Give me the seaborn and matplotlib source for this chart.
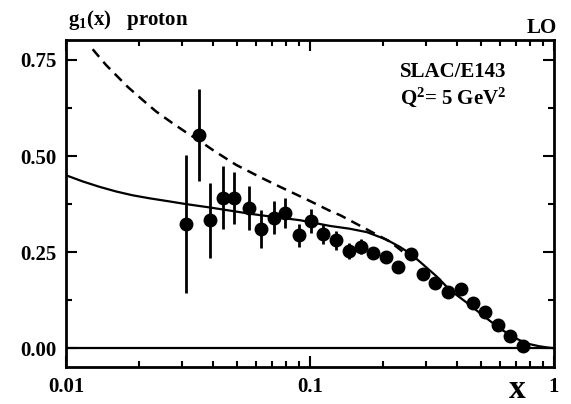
import numpy as np
import pandas as pd
import matplotlib
matplotlib.use("Agg")
import matplotlib.pyplot as plt
import seaborn as sns
from matplotlib.ticker import LogLocator, MultipleLocator, FixedLocator, NullFormatter, FixedFormatter

# ---- data ----
x_data = [0.031, 0.035, 0.039, 0.044, 0.049, 0.056, 0.063, 0.071, 0.079, 0.090,
          0.101, 0.113, 0.128, 0.144, 0.162, 0.182, 0.205, 0.229, 0.259, 0.291,
          0.325, 0.367, 0.415, 0.464, 0.521, 0.588, 0.660, 0.748]
g1_data = [0.323, 0.555, 0.333, 0.391, 0.391, 0.365, 0.310, 0.339, 0.351, 0.294,
           0.331, 0.297, 0.281, 0.253, 0.264, 0.248, 0.238, 0.210, 0.244, 0.193,
           0.170, 0.147, 0.153, 0.118, 0.095, 0.060, 0.031, 0.005]
g1_err = [0.180, 0.120, 0.098, 0.082, 0.068, 0.058, 0.050, 0.043, 0.039, 0.030,
          0.030, 0.026, 0.025, 0.022, 0.020, 0.016, 0.014, 0.012, 0.012, 0.010,
          0.009, 0.008, 0.008, 0.007, 0.006, 0.005, 0.004, 0.003]

x_solid = [0.01, 0.0117, 0.0137, 0.016, 0.0187, 0.022, 0.0265, 0.031, 0.039, 0.047,
           0.058, 0.07, 0.091, 0.121, 0.145, 0.171, 0.205, 0.233, 0.259, 0.282,
           0.33, 0.375, 0.44, 0.50, 0.60, 0.70, 0.776, 0.87, 0.96, 1.0]
g1_solid = [0.450, 0.434, 0.420, 0.408, 0.398, 0.390, 0.382, 0.375, 0.366, 0.358,
            0.349, 0.342, 0.333, 0.318, 0.311, 0.302, 0.283, 0.264, 0.245, 0.225,
            0.187, 0.151, 0.118, 0.090, 0.051, 0.025, 0.012, 0.005, 0.001, 0.0]

x_dash = [0.01286, 0.01459, 0.0179, 0.0206, 0.0234, 0.0274, 0.031, 0.0352, 0.0399,
          0.0498, 0.0625, 0.0753, 0.097, 0.121, 0.133, 0.17, 0.213, 0.24, 0.26]
g1_dash = [0.778, 0.737, 0.680, 0.646, 0.616, 0.585, 0.562, 0.540, 0.516,
           0.477, 0.445, 0.420, 0.387, 0.357, 0.346, 0.310, 0.277, 0.251, 0.240]

y_ticks = [0.0, 0.25, 0.5, 0.75]
y_ticklabels = ["0.00", "0.25", "0.50", "0.75"]
x_ticks = [0.01, 0.1, 1.0]
x_ticklabels = ["0.01", "0.1", "1"]

# ---- style ----
sns.set_theme(style="ticks")
plt.rcParams["font.family"] = ["Liberation Serif", "DejaVu Serif"]
plt.rcParams["font.weight"] = "bold"
plt.rcParams["mathtext.fontset"] = "custom"
plt.rcParams["mathtext.rm"] = "Liberation Serif:bold"
plt.rcParams["mathtext.it"] = "Liberation Serif:italic:bold"
plt.rcParams["mathtext.bf"] = "Liberation Serif:bold"

fig = plt.figure(figsize=(5.71, 4.04), dpi=100)
ax = fig.add_axes([66/571, 1-367/404, (554-66)/571, (367-40)/404])

solid_df = pd.DataFrame({"x": x_solid, "g1": g1_solid})
dash_df = pd.DataFrame({"x": x_dash, "g1": g1_dash})

ax.axhline(0.0, color="black", lw=1.6, zorder=1)
sns.lineplot(data=solid_df, x="x", y="g1", sort=False, color="black", lw=1.6, ax=ax, zorder=2)
sns.lineplot(data=dash_df, x="x", y="g1", sort=False, color="black", lw=1.8, ax=ax,
             zorder=2).lines[-1].set_dashes([4, 2.6])
ax.errorbar(x_data, g1_data, yerr=g1_err, fmt="o", color="black", ms=9,
            elinewidth=2.0, capsize=0, zorder=3)

ax.set_xscale("log")
ax.set_xlim(0.01, 1.0)
ax.set_ylim(-0.049, 0.802)

ax.xaxis.set_major_locator(FixedLocator(x_ticks))
ax.xaxis.set_major_formatter(FixedFormatter(x_ticklabels))
ax.xaxis.set_minor_locator(LogLocator(base=10, subs=np.arange(2, 10)))
ax.xaxis.set_minor_formatter(NullFormatter())
ax.yaxis.set_major_locator(FixedLocator(y_ticks))
ax.yaxis.set_major_formatter(FixedFormatter(y_ticklabels))
ax.yaxis.set_minor_locator(MultipleLocator(0.125))

ax.tick_params(which="both", direction="in", top=True, right=True, color="black",
               labelsize=15, width=1.5, labelcolor="black")
ax.tick_params(which="major", length=8, pad=7)
ax.tick_params(which="minor", length=4.5)
for lab in ax.get_xticklabels() + ax.get_yticklabels():
    lab.set_fontweight("bold")
for s in ax.spines.values():
    s.set_linewidth(2.0)
    s.set_color("black")
    s.set_visible(True)

ax.set_xlabel("")
ax.set_ylabel("")

fig.text(68/571, 1-20/404, r"g$_1$(x)   proton", fontsize=15, ha="left", va="center",
         color="black", fontweight="bold")
fig.text(557/571, 1-28/404, "LO", fontsize=15, ha="right", va="center", color="black",
         fontweight="bold")
fig.text(517/571, 1-390/404, "x", fontsize=24, ha="center", va="center", color="black",
         fontweight="bold")
fig.text(400/571, 1-72/404, "SLAC/E143", fontsize=15, ha="left", va="center", color="black",
         fontweight="bold")
fig.text(400/571, 1-97/404, r"Q$^2$= 5 GeV$^2$", fontsize=15, ha="left", va="center",
         color="black", fontweight="bold")

fig.savefig("out.png", dpi=100, facecolor="white")
